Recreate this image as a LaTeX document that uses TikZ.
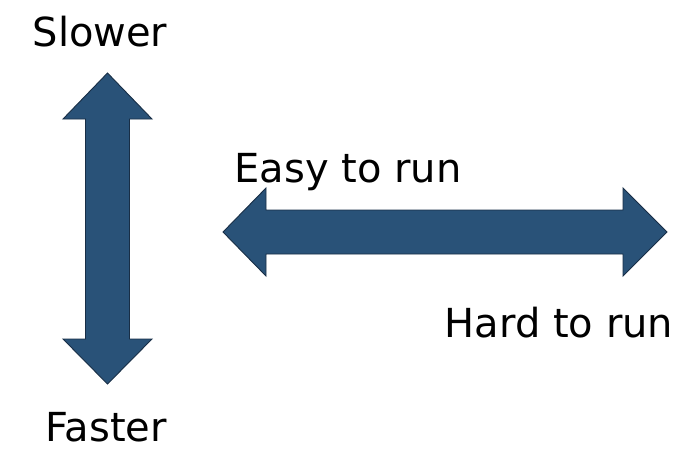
\documentclass[tikz,border=0pt]{standalone}
\usepackage{fontspec}
\setmainfont{DejaVu Sans}
\definecolor{arrowfill}{RGB}{41,82,120}
\definecolor{arrowline}{RGB}{24,46,70}
\tikzset{
  bigarrow/.style={fill=arrowfill,draw=arrowline,line width=0.9pt,line join=miter},
  label/.style={anchor=base,inner sep=0pt,font=\fontsize{40}{48}\selectfont}
}
\begin{document}
\begin{tikzpicture}[x=1pt,y=-1pt]
      \useasboundingbox (0,0) rectangle (700,472);
      % vertical arrow
      \draw[bigarrow]
        (107.5,73) -- (152,119) -- (129.5,119) -- (129.5,339) -- (152,339)
        -- (107.5,384) -- (63,339) -- (85.5,339) -- (85.5,119) -- (63,119) -- cycle;
      % horizontal arrow
      \draw[bigarrow]
        (223,232) -- (266,188) -- (266,210) -- (623,210) -- (623,188)
        -- (667,232) -- (623,276) -- (623,254) -- (266,254) -- (266,276) -- cycle;
      \draw
        (100,46) node[label] (slower){Slower}
        (106,441) node[label] (faster){Faster}
        (348,182) node[label] (easy){Easy to run}
        (559,337) node[label] (hard){Hard to run};
    \end{tikzpicture}
\end{document}
